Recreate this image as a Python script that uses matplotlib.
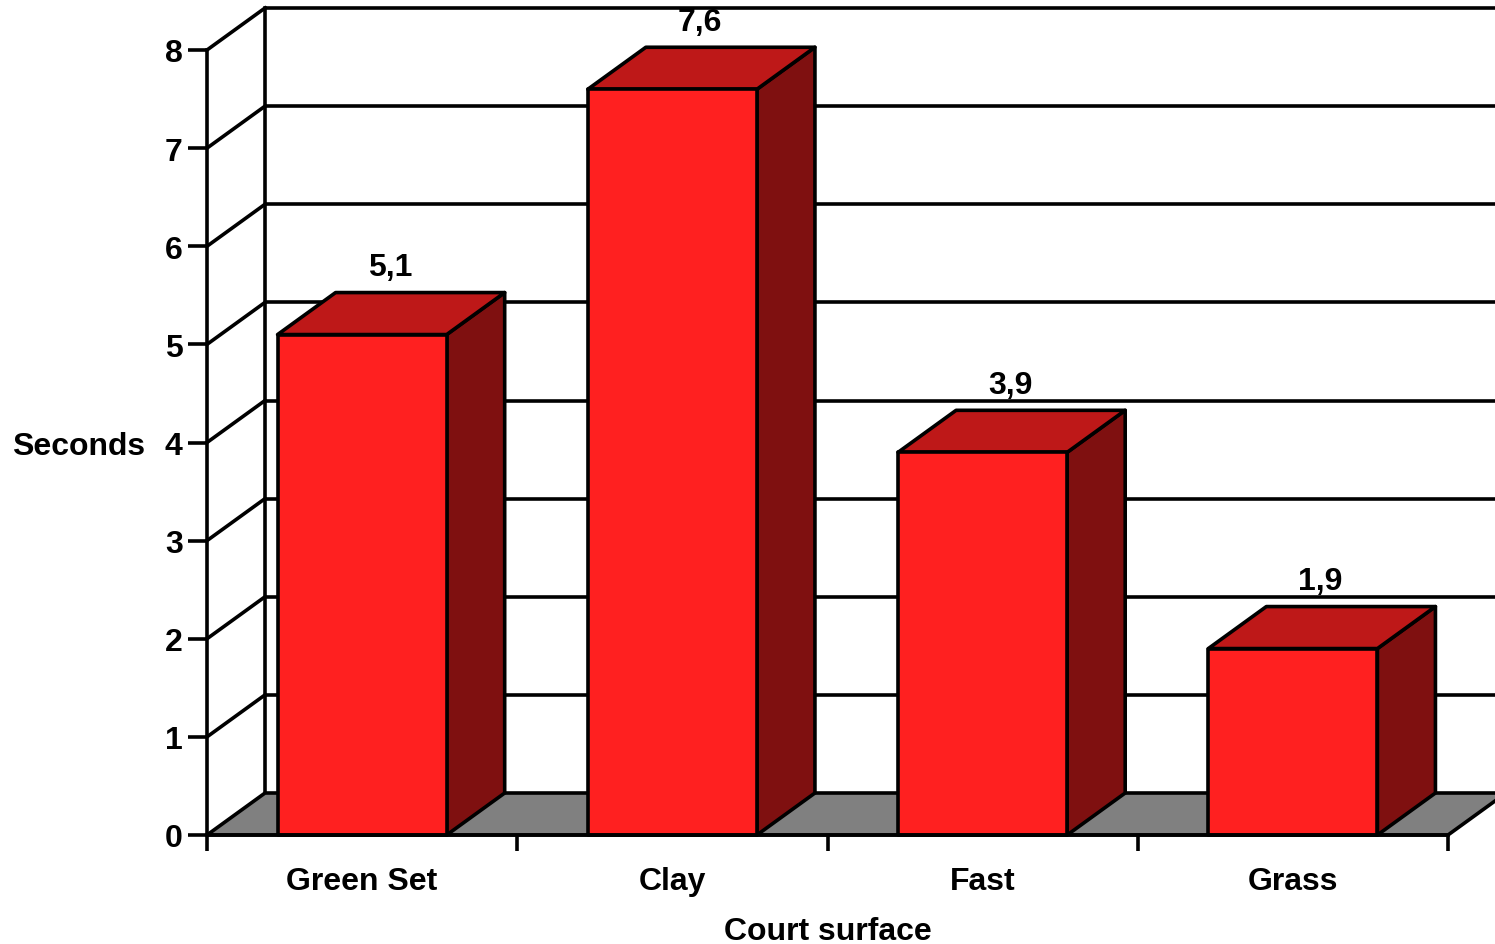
import matplotlib
matplotlib.use("Agg")
import matplotlib.pyplot as plt
from matplotlib.patches import Polygon
from matplotlib.ticker import FixedLocator, NullFormatter, FixedFormatter

# Data
categories = ["Green Set", "Clay", "Fast", "Grass"]
seconds = [5.1, 7.6, 3.9, 1.9]
value_labels = ["5,1", "7,6", "3,9", "1,9"]
y_ticks = [0, 1, 2, 3, 4, 5, 6, 7, 8]

# Styling
FRONT = "#FF2020"
TOP = "#BE1818"
SIDE = "#7F1010"
FLOOR = "#808080"
LW = 2.6
FONT = "Liberation Sans"
FS = 23

# Depth offset of the pseudo-3D box, in data units
DX = 0.187
DY = 0.428
BAR_W = 0.545

plt.rcParams["font.family"] = [FONT, "DejaVu Sans"]
plt.rcParams["font.weight"] = "bold"

fig = plt.figure(figsize=(14.95, 9.45), dpi=100)
ax = fig.add_axes([207 / 1495, 109 / 945, 1241 / 1495, 785 / 945])
ax.set_xlim(0, len(categories))
ax.set_ylim(0, 8)
ax.set_facecolor("none")

n = len(categories)
ymax = y_ticks[-1]

# Back wall gridlines and edge
for y in y_ticks[1:]:
    ax.plot([DX, n + DX], [y + DY, y + DY], color="black", lw=LW,
            clip_on=False, zorder=1, solid_capstyle="butt")
ax.plot([DX, DX], [DY, ymax + DY], color="black", lw=LW, clip_on=False, zorder=1)

# Left wall diagonals
for y in y_ticks[1:]:
    ax.plot([0, DX], [y, y + DY], color="black", lw=LW, clip_on=False, zorder=1)

# Floor
floor = Polygon([(0, 0), (n, 0), (n + DX, DY), (DX, DY)], closed=True,
                facecolor=FLOOR, edgecolor="black", lw=LW, clip_on=False,
                zorder=2, joinstyle="round")
ax.add_patch(floor)

# Bars: front face, top face and right side face
for i, v in enumerate(seconds):
    x0 = i + 0.5 - BAR_W / 2
    x1 = i + 0.5 + BAR_W / 2
    front = Polygon([(x0, 0), (x1, 0), (x1, v), (x0, v)], closed=True,
                    facecolor=FRONT, edgecolor="black", lw=LW, clip_on=False,
                    zorder=3, joinstyle="round")
    top = Polygon([(x0, v), (x1, v), (x1 + DX, v + DY), (x0 + DX, v + DY)],
                  closed=True, facecolor=TOP, edgecolor="black", lw=LW,
                  clip_on=False, zorder=3, joinstyle="round")
    side = Polygon([(x1, 0), (x1 + DX, DY), (x1 + DX, v + DY), (x1, v)],
                   closed=True, facecolor=SIDE, edgecolor="black", lw=LW,
                   clip_on=False, zorder=3, joinstyle="round")
    for p in (side, top, front):
        ax.add_patch(p)
    ax.annotate(value_labels[i], xy=(i + 0.5 + DX / 2, v + DY),
                xytext=(-1, 18.5), textcoords="offset points",
                ha="center", va="center", fontsize=FS, fontweight="bold",
                annotation_clip=False, zorder=4)

# Axes styling
for s in ("top", "right"):
    ax.spines[s].set_visible(False)
for s in ("left", "bottom"):
    ax.spines[s].set_linewidth(LW)
    ax.spines[s].set_zorder(5)

ax.set_yticks(y_ticks)
ax.set_yticklabels([str(t) for t in y_ticks])
ax.tick_params(axis="y", which="major", direction="out", length=13.5,
               width=LW, pad=4, labelsize=FS)

ax.xaxis.set_major_locator(FixedLocator(list(range(n + 1))))
ax.xaxis.set_major_formatter(NullFormatter())
ax.xaxis.set_minor_locator(FixedLocator([i + 0.5 for i in range(n)]))
ax.xaxis.set_minor_formatter(FixedFormatter(categories))
ax.tick_params(axis="x", which="major", direction="out", length=11.5, width=LW)
ax.tick_params(axis="x", which="minor", length=0, pad=22.5, labelsize=FS)

for lbl in ax.get_yticklabels() + ax.get_xticklabels(minor=True):
    lbl.set_fontweight("bold")

ax.set_ylabel("Seconds", rotation=0, fontsize=FS, fontweight="bold",
              ha="right", va="center")
ax.yaxis.set_label_coords(-0.050, 0.495)
ax.set_xlabel("Court surface", fontsize=FS, fontweight="bold", va="center")
ax.xaxis.set_label_coords(0.5, -0.122)

fig.savefig("out.png", dpi=100)
